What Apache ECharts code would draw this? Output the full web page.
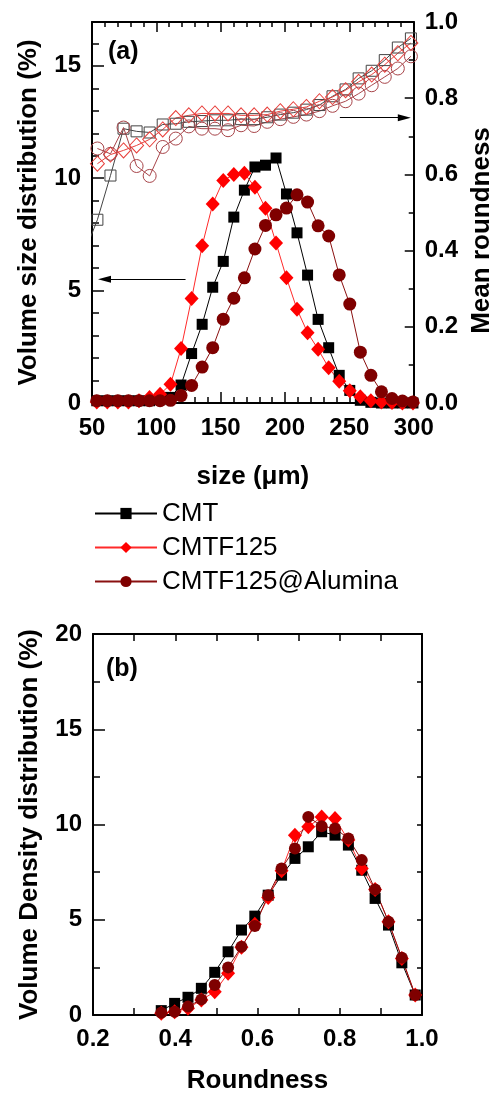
<!DOCTYPE html>
<html>
<head>
<meta charset="utf-8">
<script src="https://cdn.jsdelivr.net/npm/echarts@6/dist/echarts.min.js"></script>
<style>
  html, body { margin: 0; padding: 0; background: #fff; }
  #chart { width: 503px; height: 1097px; }
</style>
</head>
<body>
<div id="chart"></div>
<script>
// (a) volume size distribution, size bins in µm
const sizeBins = [53.7, 61.9, 70.1, 78.3, 86.5, 94.7, 102.9, 111.0, 119.2, 127.4, 135.6, 143.8, 152.0, 160.2, 168.4, 176.6,
  184.8, 193.0, 201.1, 209.3, 217.5, 225.7, 233.9, 242.1, 250.3, 258.5, 266.7, 274.9, 283.1, 291.2, 299.4]
const cmtDist = [0.1, 0.1, 0.1, 0.1, 0.1, 0.1, 0.15, 0.25, 0.8, 2.2, 3.5, 5.15, 6.3, 8.27, 9.47, 10.5,
  10.58, 10.9, 9.3, 7.57, 5.69, 3.72, 2.46, 1.23, 0.56, 0.12, 0.03, 0, 0, 0, 0]
const f125Dist = [0.05, 0.05, 0.05, 0.05, 0.1, 0.24, 0.39, 0.83, 2.42, 4.65, 7.0, 8.85, 9.9, 10.17, 10.22, 9.6,
  8.66, 7.12, 5.57, 4.17, 3.13, 2.39, 1.57, 0.97, 0.55, 0.28, 0.1, 0.05, 0.02, 0, 0]
const aluDist = [0.1, 0.1, 0.1, 0.1, 0.1, 0.1, 0.1, 0.12, 0.33, 0.78, 1.6, 2.46, 3.73, 4.66, 5.57, 6.85,
  7.9, 8.37, 8.67, 9.26, 8.94, 7.88, 7.43, 5.7, 4.4, 2.26, 1.23, 0.5, 0.2, 0.09, 0.05]

// (a) mean roundness per size bin (right axis)
const roundBins = [54.2, 64.35, 74.5, 84.65, 94.8, 104.95, 115.1, 125.25, 135.4, 145.55, 155.7, 165.85, 176.0,
  186.15, 196.3, 206.45, 216.6, 226.75, 236.9, 247.05, 257.2, 267.35, 277.5, 287.65, 297.8]
const cmtRoundBins = [44.05].concat(roundBins)
const cmtRound = [0.394, 0.481, 0.597, 0.72, 0.713, 0.71, 0.731, 0.733, 0.738, 0.74, 0.742, 0.742, 0.745, 0.745,
  0.75, 0.757, 0.762, 0.77, 0.782, 0.805, 0.823, 0.852, 0.872, 0.9, 0.933, 0.957]
const f125Round = [0.628, 0.652, 0.663, 0.676, 0.692, 0.718, 0.748, 0.755, 0.76, 0.76, 0.76, 0.755, 0.755,
  0.757, 0.766, 0.771, 0.777, 0.792, 0.803, 0.821, 0.843, 0.862, 0.888, 0.918, 0.945]
const aluRound = [0.668, 0.654, 0.723, 0.622, 0.596, 0.672, 0.694, 0.726, 0.72, 0.72, 0.716, 0.729, 0.727,
  0.738, 0.745, 0.751, 0.757, 0.766, 0.78, 0.792, 0.812, 0.834, 0.856, 0.878, 0.91]

// (b) volume density vs roundness
const roundnessBins = [0.366, 0.3985, 0.431, 0.4635, 0.496, 0.5285, 0.561, 0.5935, 0.626, 0.6585,
  0.691, 0.7235, 0.756, 0.7885, 0.821, 0.8535, 0.886, 0.9185, 0.951, 0.9835]
const cmtDens = [0.23, 0.61, 0.93, 1.4, 2.24, 3.32, 4.46, 5.19, 6.29, 7.34, 8.22, 8.83, 9.62, 9.44, 8.92, 7.6, 6.12, 4.72, 2.74, 1.05]
const f125Dens = [0.09, 0.17, 0.35, 0.79, 1.22, 2.19, 3.55, 4.77, 6.17, 7.57, 9.44, 9.88, 10.4, 10.31, 9.18, 7.69, 6.59, 4.9, 2.97, 1.05]
const aluDens = [0.12, 0.17, 0.44, 0.82, 1.57, 2.5, 3.58, 4.67, 6.29, 7.69, 8.74, 10.4, 9.91, 9.79, 9.27, 8.13, 6.59, 4.9, 3.0, 1.05]

const names = ['CMT', 'CMTF125', 'CMTF125@Alumina']

// arrows in panel (a): [from x, to x, y]
const arrowLeft = [122.7, 59.7, 5.5]
const arrowRight = [242.6, 292.7, 0.749]

const font = "'Liberation Sans', Arial, Helvetica, sans-serif"
const black = '#000'
const red = '#ff0000'
const maroon = '#7f0000'

function zip(xs, ys) {
  return xs.map(function (x, i) { return [x, ys[i]] })
}

function frameAxis(extra) {
  var base = {
    type: 'value',
    axisLine: { show: true, onZero: false, lineStyle: { color: black, width: 2 } },
    axisTick: { show: true, inside: true, length: 10, lineStyle: { color: black, width: 1.5 } },
    axisLabel: { show: false },
    splitLine: { show: false }
  }
  return Object.assign(base, extra)
}

const tickLabel = { show: true, color: black, fontFamily: font, fontWeight: 'bold', fontSize: 24 }
const nameStyle = { color: black, fontFamily: font, fontWeight: 'bold', fontSize: 26 }
const fixed1 = function (v) { return v.toFixed(1) }

function arrowLine(a) {
  return {
    silent: true,
    symbol: ['none', 'triangle'],
    symbolSize: [7, 13],
    lineStyle: { color: black, width: 1, type: 'solid' },
    label: { show: false },
    emphasis: { disabled: true },
    data: [[{ coord: [a[0], a[2]] }, { coord: [a[1], a[2]] }]]
  }
}

function filled(name, symbol, size, color, lineColor, data, xi, yi) {
  return {
    name: name, type: 'line', xAxisIndex: xi, yAxisIndex: yi,
    data: data, symbol: symbol, symbolSize: size, showAllSymbol: true,
    itemStyle: { color: color },
    lineStyle: { color: lineColor, width: 1 }
  }
}

function hollow(name, symbol, size, color, data) {
  return {
    name: name, type: 'line', xAxisIndex: 0, yAxisIndex: 1,
    data: data, symbol: symbol, symbolSize: size, showAllSymbol: true,
    itemStyle: { color: 'rgba(0,0,0,0)', borderColor: color, borderWidth: 1 },
    lineStyle: { color: color, width: 1 }
  }
}

const chart = echarts.init(document.getElementById('chart'))

const cmtA = filled(names[0], 'rect', 11, black, black, zip(sizeBins, cmtDist), 0, 0)
cmtA.markLine = arrowLine(arrowLeft)
const aluRoundSeries = hollow('CMTF125@Alumina roundness', 'circle', 13, '#a8454a', zip(roundBins, aluRound))
aluRoundSeries.markLine = arrowLine(arrowRight)

const option = {
  animation: false,
  backgroundColor: '#fff',
  textStyle: { fontFamily: font },
  title: [
    { text: '(a)', left: 108, top: 40, padding: 0, textStyle: { fontFamily: font, fontWeight: 'bold', fontSize: 25, color: black } },
    { text: '(b)', left: 106, top: 657, padding: 0, textStyle: { fontFamily: font, fontWeight: 'bold', fontSize: 25, color: black } }
  ],
  legend: {
    data: names,
    orient: 'vertical',
    left: 94,
    top: 499,
    padding: 0,
    itemWidth: 62,
    itemHeight: 14,
    itemGap: 5,
    selectedMode: false,
    textStyle: { fontFamily: font, fontSize: 26, color: black, lineHeight: 29 }
  },
  grid: [
    { left: 92, right: 81, top: 22, height: 381 },
    { left: 93, right: 81, top: 634, height: 381 }
  ],
  xAxis: [
    frameAxis({
      gridIndex: 0, position: 'bottom', min: 50, max: 300, interval: 50,
      axisTick: { show: true, inside: true, length: 11, lineStyle: { color: black, width: 1.5 } },
      minorTick: { show: true, splitNumber: 5, length: 6, lineStyle: { color: black, width: 1.5 } },
      axisLabel: Object.assign({ margin: 13 }, tickLabel),
      name: 'size (μm)', nameLocation: 'middle', nameGap: 61, nameTextStyle: nameStyle
    }),
    frameAxis({
      gridIndex: 0, position: 'top', min: 50, max: 300, interval: 50,
      minorTick: { show: true, splitNumber: 5, length: 5, lineStyle: { color: black, width: 1.5 } }
    }),
    frameAxis({
      gridIndex: 1, position: 'bottom', min: 0.2, max: 1.0, interval: 0.2,
      axisTick: { show: true, inside: true, length: 7, lineStyle: { color: black, width: 1.5 } },
      minorTick: { show: true, splitNumber: 2, length: 7, lineStyle: { color: black, width: 1.5 } },
      axisLabel: Object.assign({ margin: 12, formatter: fixed1 }, tickLabel),
      name: 'Roundness', nameLocation: 'middle', nameGap: 53, nameTextStyle: nameStyle
    }),
    frameAxis({
      gridIndex: 1, position: 'top', min: 0.2, max: 1.0, interval: 0.2,
      axisTick: { show: true, inside: true, length: 7, lineStyle: { color: black, width: 1.5 } },
      minorTick: { show: true, splitNumber: 2, length: 7, lineStyle: { color: black, width: 1.5 } }
    })
  ],
  yAxis: [
    frameAxis({
      gridIndex: 0, position: 'left', min: 0, max: 16.95, interval: 5,
      axisTick: { show: true, inside: true, length: 12, lineStyle: { color: black, width: 1.5 } },
      axisLabel: Object.assign({ margin: 11, showMaxLabel: false }, tickLabel),
      name: 'Volume size distribution (%)', nameLocation: 'middle', nameGap: 50, nameTextStyle: nameStyle
    }),
    frameAxis({
      gridIndex: 0, position: 'right', min: 0, max: 1, interval: 0.2,
      axisTick: { show: true, inside: true, length: 9, lineStyle: { color: black, width: 1.5 } },
      minorTick: { show: true, splitNumber: 2, length: 5, lineStyle: { color: black, width: 1.5 } },
      axisLabel: Object.assign({ margin: 11, formatter: fixed1 }, tickLabel),
      name: 'Mean roundness', nameLocation: 'middle', nameGap: 55,
      nameTextStyle: Object.assign({ padding: [0, 36, 0, 0] }, nameStyle)
    }),
    // minor ticks every 1 % on the left of (a)
    frameAxis({
      gridIndex: 0, position: 'left', min: 0, max: 16.95, interval: 1,
      axisLine: { show: false, onZero: false },
      axisTick: { show: true, inside: true, length: 7, lineStyle: { color: black, width: 1.5 } }
    }),
    frameAxis({
      gridIndex: 1, position: 'left', min: 0, max: 20, interval: 5,
      axisTick: { show: true, inside: true, length: 12, lineStyle: { color: black, width: 1.5 } },
      minorTick: { show: true, splitNumber: 2, length: 7, lineStyle: { color: black, width: 1.5 } },
      axisLabel: Object.assign({ margin: 11 }, tickLabel),
      name: 'Volume Density distribution (%)', nameLocation: 'middle', nameGap: 50, nameTextStyle: nameStyle
    }),
    frameAxis({
      gridIndex: 1, position: 'right', min: 0, max: 20, interval: 2.5,
      axisTick: { show: true, inside: true, length: 5, lineStyle: { color: black, width: 1.5 } }
    })
  ],
  series: [
    hollow('CMT roundness', 'rect', 11, '#444', zip(cmtRoundBins, cmtRound)),
    hollow('CMTF125 roundness', 'diamond', [14, 15], '#e8403c', zip(roundBins, f125Round)),
    aluRoundSeries,
    cmtA,
    filled(names[1], 'diamond', [14, 15], red, '#ff2a2a', zip(sizeBins, f125Dist), 0, 0),
    filled(names[2], 'circle', 13, maroon, '#8a1010', zip(sizeBins, aluDist), 0, 0),
    filled(names[0], 'rect', 11, black, black, zip(roundnessBins, cmtDens), 2, 3),
    filled(names[1], 'diamond', [14, 15], red, '#ff2a2a', zip(roundnessBins, f125Dens), 2, 3),
    filled(names[2], 'circle', 12, maroon, '#8a1010', zip(roundnessBins, aluDens), 2, 3)
  ]
}

chart.setOption(option)
</script>
</body>
</html>
